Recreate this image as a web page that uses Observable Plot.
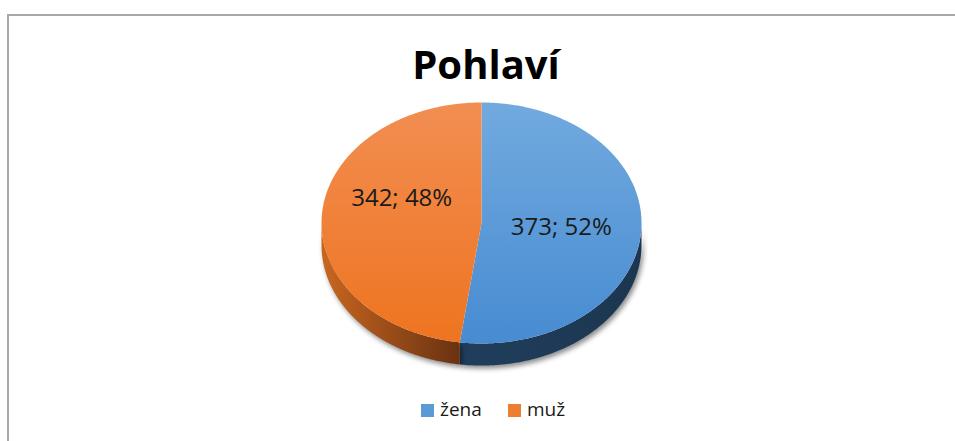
<!DOCTYPE html>
<html>
<head>
<meta charset="utf-8">
<script src="https://cdn.jsdelivr.net/npm/d3@7"></script>
<script src="https://cdn.jsdelivr.net/npm/@observablehq/plot@0.6"></script>
<style>
html,body{margin:0;padding:0;background:#fff;overflow:hidden;}
#wrap{position:relative;width:955px;height:441px;font-family:"Open Sans",sans-serif;}
#chart{position:absolute;left:0;top:0;width:955px;height:441px;}
#frame{position:absolute;left:7px;top:14px;width:980px;height:460px;border-top:2px solid #a8a8a8;border-left:2px solid #a8a8a8;box-sizing:border-box;}
#title{position:absolute;left:486px;top:44px;transform:translateX(-50%);font-size:40px;line-height:40px;font-weight:700;color:#000;white-space:nowrap;}
.leg{position:absolute;font-size:19px;line-height:19px;color:#1a1a1a;white-space:nowrap;}
.sw{position:absolute;width:13px;height:13px;}
</style>
</head>
<body>
<div id="wrap">
  <div id="chart"></div>
  <div id="frame"></div>
  <div id="title">Pohlaví</div>
  <div id="legend"></div>
</div>
<script>
// ---- data ----
const categories = ["žena", "muž"];
const counts = [373, 342];

// ---- styles ----
const legendColors = ["#5b9bd5", "#ed7d31"];
const topStops = [["#72aadf", "#478bd1"], ["#f28e52", "#ee7420"]];
const sideStops = [["#203e5c", "#1c3650"], ["#c9661f", "#693211"]];
const labelDy = [0, -21];
const DEPTH = 0.183;   // thickness of the 3D pie in y-units
const LABEL_R = 0.5;

const total = d3.sum(counts);
let acc = 0;
const slices = categories.map((c, i) => {
  const a0 = acc / total * 2 * Math.PI;
  acc += counts[i];
  const a1 = acc / total * 2 * Math.PI;
  return {c, i, v: counts[i], a0, a1, mid: (a0 + a1) / 2,
          pct: Math.round(counts[i] / total * 100)};
});

function arcPts(a0, a1, drop = 0) {
  const n = Math.max(2, Math.ceil((a1 - a0) / (Math.PI / 360)));
  return d3.range(n + 1).map(k => {
    const a = a0 + (a1 - a0) * k / n;
    return {x: Math.sin(a), y: Math.cos(a) - drop};
  });
}

const marks = [];
const sideIdx = {}, topIdx = {};
// sides (visible front half)
slices.forEach(s => {
  const s0 = Math.max(s.a0, Math.PI / 2), s1 = Math.min(s.a1, 3 * Math.PI / 2);
  if (s1 > s0) {
    const pts = [...arcPts(s0, s1), ...arcPts(s0, s1, DEPTH).reverse()];
    sideIdx[s.i] = marks.length;
    marks.push(Plot.line(pts, {x: "x", y: "y", fill: sideStops[s.i][1], stroke: "none"}));
  }
});
// tops
slices.forEach(s => {
  const pts = [{x: 0, y: 0}, ...arcPts(s.a0, s.a1), {x: 0, y: 0}];
  topIdx[s.i] = marks.length;
  marks.push(Plot.line(pts, {x: "x", y: "y", fill: legendColors[s.i], stroke: "none"}));
});
// labels
slices.forEach(s => {
  marks.push(Plot.text([s], {
    x: d => LABEL_R * Math.sin(d.mid),
    y: d => LABEL_R * Math.cos(d.mid),
    text: d => `${d.v}; ${d.pct}%`,
    dy: labelDy[s.i],
    fontSize: 24,
    fontFamily: "Open Sans",
    fill: "#1a1a1a"
  }));
});

const chart = Plot.plot({
  width: 955,
  height: 441,
  margin: 0,
  style: {background: "transparent", overflow: "visible"},
  x: {domain: [-1, 1], range: [321, 641], axis: null},
  y: {domain: [-1, 1], range: [343, 102], axis: null},
  marks
});
document.getElementById("chart").appendChild(chart);

// gradients inside the plot's svg
const svg = d3.select(chart);
const groups = chart.querySelectorAll(":scope > g");
const defs = svg.insert("defs", ":first-child");
function grad(id, stops, vertical) {
  const g = defs.append("linearGradient").attr("id", id)
    .attr("x1", 0).attr("y1", 0).attr("x2", vertical ? 0 : 1).attr("y2", vertical ? 1 : 0);
  g.append("stop").attr("offset", 0).attr("stop-color", stops[0]);
  g.append("stop").attr("offset", 1).attr("stop-color", stops[1]);
}
slices.forEach(s => {
  grad(`gtop${s.i}`, topStops[s.i], true);
  grad(`gside${s.i}`, sideStops[s.i], false);
  if (groups[topIdx[s.i]]) d3.select(groups[topIdx[s.i]]).attr("fill", `url(#gtop${s.i})`);
  if (sideIdx[s.i] !== undefined && groups[sideIdx[s.i]]) {
    d3.select(groups[sideIdx[s.i]]).attr("fill", `url(#gside${s.i})`)
      .style("filter", "drop-shadow(2px 3px 2.5px rgba(0,0,0,0.45))");
  }
});

// legend
const legend = document.getElementById("legend");
const swX = [421, 508], txX = [440, 527];
categories.forEach((c, i) => {
  const sw = document.createElement("div");
  sw.className = "sw";
  sw.style.left = swX[i] + "px";
  sw.style.top = "404px";
  sw.style.background = legendColors[i];
  legend.appendChild(sw);
  const t = document.createElement("div");
  t.className = "leg";
  t.style.left = txX[i] + "px";
  t.style.top = "400px";
  t.textContent = c;
  legend.appendChild(t);
});
</script>
</body>
</html>
